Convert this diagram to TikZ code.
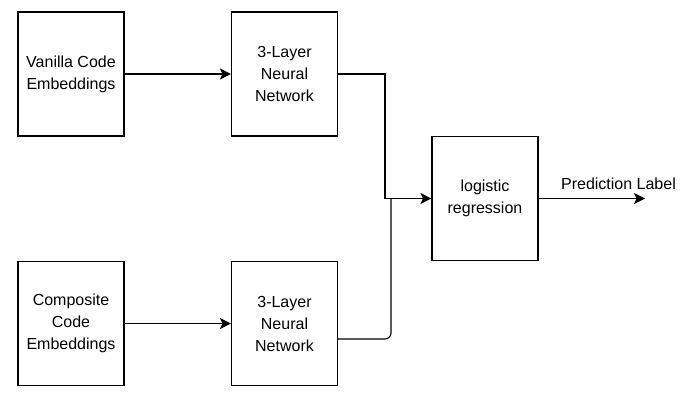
\documentclass[tikz,border=0pt]{standalone}
\usepackage{fontspec}
\setmainfont{Liberation Sans}
\usetikzlibrary{arrows.meta}
\begin{document}
\begin{tikzpicture}[x=1pt,y=-1pt,
  txt/.style={font=\fontsize{16}{22}\selectfont},
  block/.style={draw, line width=1.1pt, minimum width=106pt, minimum height=124pt,
    align=center, txt, inner sep=0pt},
  link/.style={line width=1.1pt},
  tip/.style={-{Stealth[length=11pt,width=11pt,inset=2.5pt]}}]
  \useasboundingbox (0,0) rectangle (682,393);

  \node[block] (vce) at (71,74) {Vanilla Code\\Embeddings};
  \node[block] (nn1) at (284.5,74) {3-Layer\\Neural\\Network};
  \node[block] (cce) at (71,323.5) {Composite\\Code\\Embeddings};
  \node[block] (nn2) at (284.5,323.5) {3-Layer\\Neural\\Network};
  \node[block] (lr) at (485,198.5) {logistic\\regression};

  \coordinate (bendA) at (385,74);
  \coordinate (join) at (385,198.5);
  \coordinate (bendB) at (391,339);
  \coordinate (joinB) at (391,198.5);
  \coordinate (out) at (645,198.5);

  \draw[link,tip] (vce.east) -- (nn1.west);
  \draw[link,tip] (cce.east) -- (nn2.west);
  \draw[link,tip] (nn1.east) -- (bendA) -- (join) -- (lr.west);
  \draw[link,rounded corners=6pt] ([yshift=-15.5pt]nn2.east) -- (bendB) -- (joinB);
  \draw[link,tip] (lr.east) -- (out);
  \node[txt, inner sep=0pt] (lbl) at (618.5,184) {Prediction Label};
\end{tikzpicture}
\end{document}
